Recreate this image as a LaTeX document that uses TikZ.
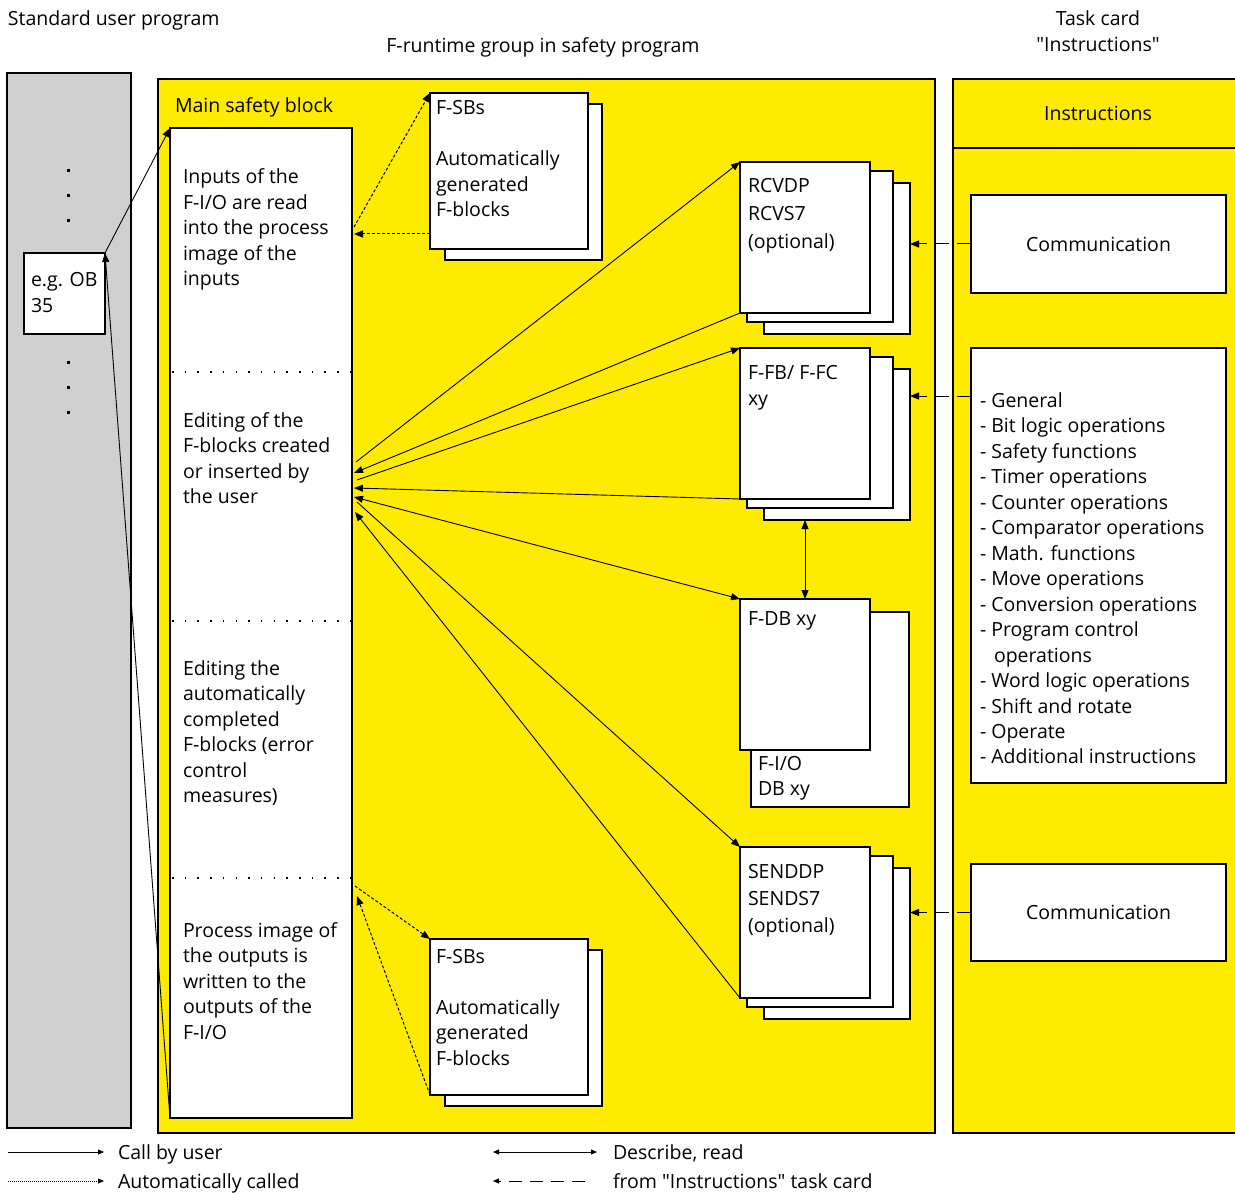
\documentclass[tikz,border=0pt]{standalone}
\usepackage{fontspec}
\setmainfont{Open Sans}[Ligatures=TeXOff]
\usetikzlibrary{arrows.meta,calc}
\definecolor{siyellow}{RGB}{255,235,0}
\definecolor{sigray}{RGB}{208,208,208}
\newcommand\mlines[1]{\begin{tabular}[t]{@{}l@{}}#1\end{tabular}}
\begin{document}
\begin{tikzpicture}[x=1pt,y=-1pt,
  font=\fontsize{19.5}{25.5}\selectfont,
  >={Triangle[length=9pt,width=7pt]},
  panel/.style={draw, line width=1.6pt, anchor=north west, inner sep=0, outer sep=0},
  box/.style={panel, fill=white},
  txt/.style={anchor=base west, inner sep=0, outer sep=0},
  ctxt/.style={anchor=base, inner sep=0, outer sep=0},
  arr/.style={line width=0.9pt, ->},
  darr/.style={line width=0.9pt, <->},
  dotarr/.style={line width=1pt, dash pattern=on 3pt off 2pt, ->},
  dasharr/.style={line width=1pt, dash pattern=on 14pt off 8pt, ->},
  sepdots/.style={line width=1.3pt, dash pattern=on 1.5pt off 11.2pt},
  legtip/.style={-{Triangle[length=6pt,width=5pt]}},
  legtips/.style={{Triangle[length=6pt,width=5pt]}-{Triangle[length=6pt,width=5pt]}},
]
\useasboundingbox (0,0) rectangle (1235,1193);

% panels
\node[panel, fill=sigray, minimum width=124pt, minimum height=1055pt] (stdcol) at (7,73) {};
\node[panel, fill=siyellow, minimum width=777pt, minimum height=1054pt] (fgroup) at (158,79) {};
\node[panel, fill=siyellow, minimum width=286pt, minimum height=1054pt] (taskcard) at (953,79) {};
\draw[line width=1.6pt] (953,148) -- (1237,148);

% headings
\node[txt] (hstd) at (8,26) {Standard user program};
\node[ctxt] (hfrt) at (543,53) {F-runtime group in safety program};
\node[ctxt] (htc1) at (1098,26) {Task card};
\node[ctxt] (htc2) at (1098,52) {"Instructions"};
\node[ctxt] (hins) at (1098,121) {Instructions};
\node[txt] (hmsb) at (175,113) {Main safety block};

% gray column dots
\foreach \yy in {171,196,221,362,387,412}
  \fill ($(68,\yy)-(1.5,1.5)$) rectangle +(3,3);

% OB box
\node[box, minimum width=81pt, minimum height=81pt] (ob) at (24,253) {};
\node[txt] (obtxt) at (31,287) {\mlines{e.g. OB\\35}};

% main safety block
\node[box, minimum width=182pt, minimum height=990pt] (msb) at (170,128) {};
\draw[sepdots] (172,372) -- (351,372);
\draw[sepdots] (172,621) -- (351,621);
\draw[sepdots] (172,878) -- (351,878);
\node[txt] (t1) at (183,184) {\mlines{Inputs of the\\F-I/O are read\\into the process\\image of the\\inputs}};
\node[txt] (t2) at (183,427) {\mlines{Editing of the\\F-blocks created\\or inserted by\\the user}};
\node[txt] (t3) at (183,675) {\mlines{Editing the\\automatically\\completed\\F-blocks (error\\control\\measures)}};
\node[txt] (t4) at (183,937) {\mlines{Process image of\\the outputs is\\written to the\\outputs of the\\F-I/O}};

% F-SBs top
\node[box, minimum width=157pt, minimum height=156pt] (fsb1b) at (445,104) {};
\node[box, minimum width=158pt, minimum height=156pt] (fsb1) at (430,93) {};
\node[txt] (fsb1t) at (436,115) {\mlines{F-SBs\\\mbox{}\\Automatically\\generated\\F-blocks}};
% F-SBs bottom
\node[box, minimum width=157pt, minimum height=156pt] (fsb2b) at (445,950) {};
\node[box, minimum width=158pt, minimum height=156pt] (fsb2) at (430,939) {};
\node[txt] (fsb2t) at (436,963) {\mlines{F-SBs\\\mbox{}\\Automatically\\generated\\F-blocks}};

% RCV stack
\node[box, minimum width=146pt, minimum height=151pt] (rcv3) at (764,183) {};
\node[box, minimum width=146pt, minimum height=151pt] (rcv2) at (747,171) {};
\node[box, minimum width=130pt, minimum height=151pt] (rcv) at (740,162) {};
\node[txt, font=\fontsize{19.5}{28}\selectfont] (rcvt) at (748,193) {\mlines{RCVDP\\RCVS7\\(optional)}};

% F-FB stack
\node[box, minimum width=146pt, minimum height=151pt] (ffb3) at (764,369) {};
\node[box, minimum width=146pt, minimum height=151pt] (ffb2) at (747,357) {};
\node[box, minimum width=130pt, minimum height=151pt] (ffb) at (740,348) {};
\node[txt, font=\fontsize{19.5}{26}\selectfont] (ffbt) at (748,379) {\mlines{F-FB/ F-FC\\xy}};

% F-DB
\node[box, minimum width=158pt, minimum height=195pt] (fdb2) at (751,612) {};
\node[box, minimum width=130pt, minimum height=151pt] (fdb) at (740,599) {};
\node[txt] (fdbt) at (748,625) {F-DB xy};
\node[txt] (fdb2t) at (758,770) {\mlines{F-I/O\\DB xy}};

% SEND stack
\node[box, minimum width=146pt, minimum height=151pt] (snd3) at (764,868) {};
\node[box, minimum width=146pt, minimum height=151pt] (snd2) at (747,856) {};
\node[box, minimum width=130pt, minimum height=151pt] (snd) at (740,847) {};
\node[txt, font=\fontsize{19.5}{27}\selectfont] (sndt) at (748,878) {\mlines{SENDDP\\SENDS7\\(optional)}};

% right boxes
\node[box, minimum width=255pt, minimum height=98pt] (com1) at (971,195) {Communication};
\node[box, minimum width=255pt, minimum height=435pt] (list) at (971,348) {};
\node[box, minimum width=255pt, minimum height=97pt] (com2) at (971,864) {Communication};
\node[txt] (listt) at (980,407) {\mlines{- General\\- Bit logic operations\\- Safety functions\\- Timer operations\\- Counter operations\\- Comparator operations\\- Math. functions\\- Move operations\\- Conversion operations\\- Program control\\\hspace{14pt}operations\\- Word logic operations\\- Shift and rotate\\- Operate\\- Additional instructions}};

% coordinates on main block edge
\coordinate (m1) at (354,227);
\coordinate (m2) at (354,234);
\coordinate (f1) at (430,234);
\coordinate (m3) at (356,462);
\coordinate (m4) at (354,473);
\coordinate (m5) at (357,480);
\coordinate (m6) at (354,488);
\coordinate (m7) at (354,497);
\coordinate (m8) at (357,502);
\coordinate (m9) at (355,512);
\coordinate (m10) at (355,886);
\coordinate (m11) at (357,896);
\coordinate (lst) at (971,396);

% OB connectors
\draw[arr] (ob.north east) -- (msb.north west);
\draw[arr] (msb.south west) -- (ob.north east);

% dotted (automatic)
\draw[dotarr] (m1) -- (fsb1.north west);
\draw[dotarr] (f1) -- (m2);
\draw[dotarr] (m10) -- (fsb2.north west);
\draw[dotarr] (fsb2.south west) -- (m11);

% calls
\draw[arr] (m3) -- (rcv.north west);
\draw[arr] (rcv.south west) -- (m4);
\draw[arr] (m5) -- (ffb.north west);
\draw[arr] (ffb.south west) -- (m6);
\draw[darr] (m7) -- (fdb.north west);
\draw[arr] (m8) -- (snd.north west);
\draw[arr] (snd.south west) -- (m9);
\draw[darr] (fdb.north) -- (fdb.north |- ffb3.south);

% from instructions
\draw[dasharr] (com1.west) -- (com1.west -| rcv3.east);
\draw[dasharr] (lst) -- (lst -| ffb3.east);
\draw[dasharr] (com2.west) -- (com2.west -| snd3.east);

% legend
\coordinate (l1a) at (8,1152); \coordinate (l1b) at (104,1152);
\coordinate (l2a) at (8,1181); \coordinate (l2b) at (104,1181);
\coordinate (l3a) at (493,1152); \coordinate (l3b) at (597,1152);
\coordinate (l4a) at (585,1181); \coordinate (l4b) at (493,1181);
\draw[legtip, line width=0.8pt] (l1a) -- (l1b);
\draw[legtip, line width=0.8pt, dash pattern=on 1pt off 1pt] (l2a) -- (l2b);
\draw[legtips, line width=0.8pt] (l3a) -- (l3b);
\draw[legtip, line width=0.8pt, dash pattern=on 13pt off 8pt] (l4a) -- (l4b);
\node[txt] (lg1) at (118,1159) {Call by user};
\node[txt] (lg2) at (118,1188) {Automatically called};
\node[txt] (lg3) at (613,1159) {Describe, read};
\node[txt] (lg4) at (613,1188) {from "Instructions" task card};
\end{tikzpicture}
\end{document}
